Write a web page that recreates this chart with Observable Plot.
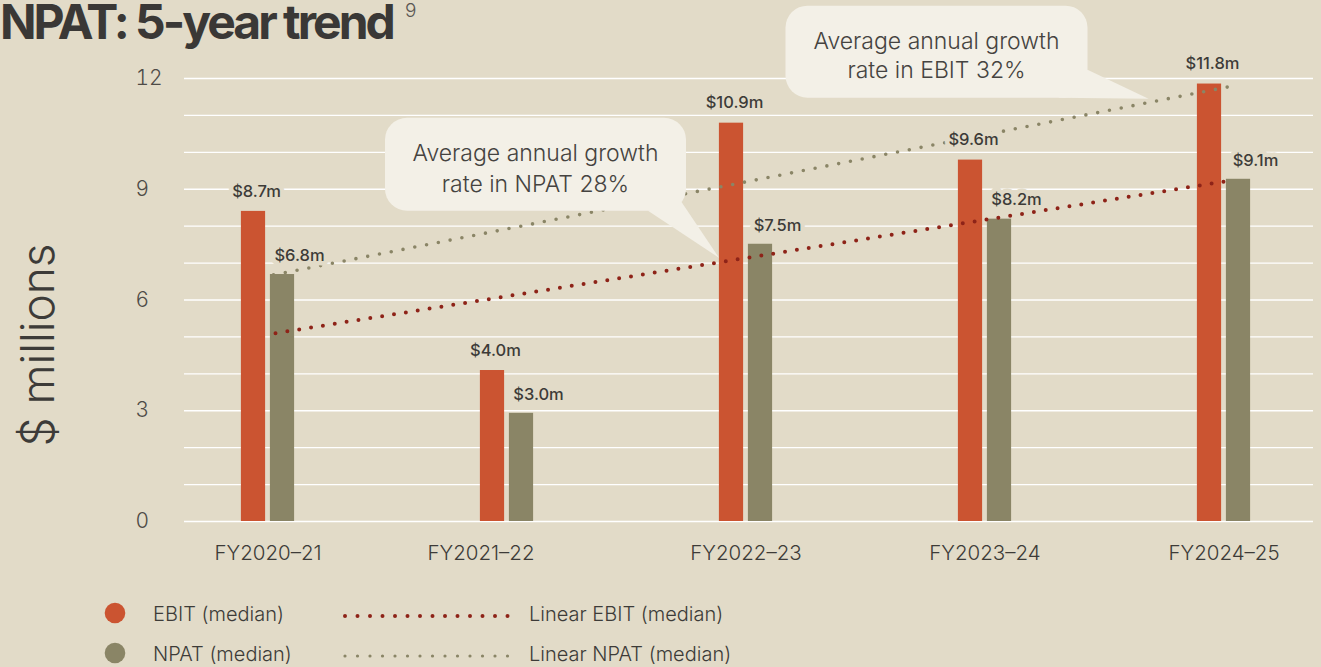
<!DOCTYPE html>
<html><head><meta charset="utf-8">
<script src="https://cdn.jsdelivr.net/npm/d3@7"></script>
<script src="https://cdn.jsdelivr.net/npm/@observablehq/plot@0.6"></script>
<style>
html,body{margin:0;padding:0;background:#e2dbc8;}
#wrap{position:relative;width:1321px;height:667px;overflow:hidden;font-family:Inter,"Noto Sans",sans-serif;color:#3d3b38;}
#chart{position:absolute;left:0;top:0;}
#title{position:absolute;left:0px;top:0px;font-size:48px;line-height:44px;font-weight:700;letter-spacing:-3px;white-space:nowrap;color:#3a3836;}
#sup{position:absolute;left:405px;top:1px;font-size:19px;line-height:19px;font-weight:300;color:#5a5753;}
#legend{position:absolute;left:0;top:590px;}
</style></head>
<body>
<div id="wrap">
  <div id="chart"></div>
  <div id="title">NPAT: 5-year trend</div>
  <div id="sup">9</div>
  <div id="legend"></div>
</div>
<script>
// ---- data ----
const years = ["FY2020–21", "FY2021–22", "FY2022–23", "FY2023–24", "FY2024–25"];
const ebit = [8.4, 4.09, 10.79, 9.79, 11.85];            // bar heights as drawn
const npat = [6.69, 2.93, 7.51, 8.19, 9.27];
const ebitLabels = ["$8.7m", "$4.0m", "$10.9m", "$9.6m", "$11.8m"];
const npatLabels = ["$6.8m", "$3.0m", "$7.5m", "$8.2m", "$9.1m"];
const linearEbit = [5.1, 9.24];   // first year, last year
const linearNpat = [6.68, 11.78];
const yTicks = [0, 3, 6, 9, 12];
const gridValues = d3.range(0, 13, 1);
const seriesNames = ["EBIT (median)", "NPAT (median)"];
const trendNames = ["Linear EBIT (median)", "Linear NPAT (median)"];
const calloutNpat = ["Average annual growth", "rate in NPAT 28%"];
const calloutEbit = ["Average annual growth", "rate in EBIT 32%"];

// ---- styles ----
const bg = "#e2dbc8";
const cEbit = "#cb5431";
const cNpat = "#8a8566";
const cEbitTrend = "#8e2318";
const cNpatTrend = "#8a8566";
const cText = "#3d3b38";
const cBubble = "#f3f0e7";

const xRange = [146, 1345];
const step = (xRange[1] - xRange[0]) / years.length;
const half = step / 2;

const ebitData = years.map((y, i) => ({year: y, value: ebit[i], label: ebitLabels[i]}));
const npatData = years.map((y, i) => ({year: y, value: npat[i], label: npatLabels[i]}));
const trendE = [{year: years[0], value: linearEbit[0]}, {year: years[years.length - 1], value: linearEbit[1]}];
const trendN = [{year: years[0], value: linearNpat[0]}, {year: years[years.length - 1], value: linearNpat[1]}];

function callout(spec) {
  return (index, scales) => {
    const sx = scales.x, sy = scales.y;
    const tx = sx(spec.year) + sx.bandwidth() / 2 + spec.dx;
    const ty = sy(spec.value);
    const g = d3.create("svg:g");
    const b = spec.box;
    g.append("path")
      .attr("d", `M${tx + spec.tail[0][0]},${ty + spec.tail[0][1]}L${tx + spec.tail[1][0]},${ty + spec.tail[1][1]}L${tx},${ty}Z`)
      .attr("fill", cBubble);
    g.append("rect")
      .attr("x", tx + b[0]).attr("y", ty + b[1])
      .attr("width", b[2]).attr("height", b[3])
      .attr("rx", 22).attr("fill", cBubble);
    spec.lines.forEach((t, i) => {
      g.append("text")
        .attr("x", tx + b[0] + b[2] / 2)
        .attr("y", ty + spec.baselines[i])
        .attr("text-anchor", "middle")
        .attr("font-family", "Inter, 'Noto Sans', sans-serif")
        .attr("font-size", 23)
        .attr("font-weight", 300)
        .attr("fill", "#454340")
        .text(t);
    });
    return g.node();
  };
}

const labelStyle = {fill: cText, fontSize: 16.5, fontWeight: 500, stroke: bg, strokeWidth: 9, paintOrder: "stroke", strokeLinejoin: "round"};

const chart = Plot.plot({
  width: 1321,
  height: 580,
  marginLeft: 184,
  marginRight: 8,
  marginTop: 78,
  marginBottom: 59,
  style: {background: "transparent", fontFamily: "Inter, 'Noto Sans', sans-serif", overflow: "visible"},
  x: {domain: years, range: xRange, padding: 0},
  y: {domain: [0, 12]},
  marks: [
    Plot.ruleY(gridValues, {stroke: "#ffffff", strokeWidth: 1.3}),
    Plot.axisY({ticks: yTicks, tickSize: 0, tickPadding: 0, textAnchor: "start", dx: -49, fontSize: 21, fontWeight: 300, fill: "#4e4b47", label: null}),
    Plot.axisX({ticks: years.filter((d) => d !== "FY2021–22"), tickSize: 0, tickPadding: 24, fontSize: 20.5, fontWeight: 300, fill: cText, label: null}),
    Plot.axisX({ticks: ["FY2021–22"], tickSize: 0, tickPadding: 24, dx: -26, fontSize: 20.5, fontWeight: 300, fill: cText, label: null}),
    Plot.text(["$ millions"], {frameAnchor: "left", textAnchor: "middle", rotate: -90, dx: -145, dy: 45, fontSize: 46, fontWeight: 300, fill: cText}),
    Plot.barY(ebitData, {x: "year", y: "value", fill: cEbit, insetLeft: half - 27, insetRight: half + 2}),
    Plot.barY(npatData, {x: "year", y: "value", fill: cNpat, insetLeft: half + 2, insetRight: half - 27}),
    Plot.line(trendN, {x: "year", y: "value", dx: 5.5, stroke: cNpatTrend, strokeWidth: 3.6, strokeDasharray: "0 12", strokeLinecap: "round"}),
    Plot.line(trendE, {x: "year", y: "value", dx: 7.5, stroke: cEbitTrend, strokeWidth: 4, strokeDasharray: "0 12", strokeLinecap: "round"}),
    Plot.text(ebitData, {x: "year", y: "value", text: "label", dx: -14.5 + 3, dy: -20, ...labelStyle}),
    Plot.text(npatData, {x: "year", y: "value", text: "label", dx: 14.5 + 17, dy: -19, ...labelStyle}),
    callout({year: "FY2022–23", value: 7.13, dx: -26.5, lines: calloutNpat,
      box: [-334, -140, 301, 93], tail: [[-71, -47], [-39, -58]], baselines: [-97, -66]}),
    callout({year: "FY2024–25", value: 11.44, dx: -75, lines: calloutEbit,
      box: [-363, -93, 302, 92], tail: [[-90, -1], [-61, -29]], baselines: [-50, -21]})
  ]
});
document.getElementById("chart").appendChild(chart);

// ---- legend ----
const leg = d3.select("#legend").append("svg").attr("width", 1321).attr("height", 77);
const rows = [
  {name: seriesNames[0], color: cEbit, trend: trendNames[0], tcolor: cEbitTrend, r: 2, cy: 23},
  {name: seriesNames[1], color: cNpat, trend: trendNames[1], tcolor: cNpatTrend, r: 1.6, cy: 63}
];
rows.forEach((r) => {
  leg.append("circle").attr("cx", 115).attr("cy", r.cy).attr("r", 10.3).attr("fill", r.color);
  leg.append("text").attr("x", 153).attr("y", r.cy + 8).attr("font-size", 20).attr("font-weight", 300)
    .attr("fill", cText).attr("font-family", "Inter, 'Noto Sans', sans-serif").text(r.name);
  leg.append("line").attr("x1", 345).attr("x2", 508).attr("y1", r.cy + 3).attr("y2", r.cy + 3)
    .attr("stroke", r.tcolor).attr("stroke-width", r.r * 2).attr("stroke-linecap", "round")
    .attr("stroke-dasharray", "0 12.5");
  leg.append("text").attr("x", 529).attr("y", r.cy + 8).attr("font-size", 20).attr("font-weight", 300)
    .attr("fill", cText).attr("font-family", "Inter, 'Noto Sans', sans-serif").text(r.trend);
});
</script>
</body></html>
